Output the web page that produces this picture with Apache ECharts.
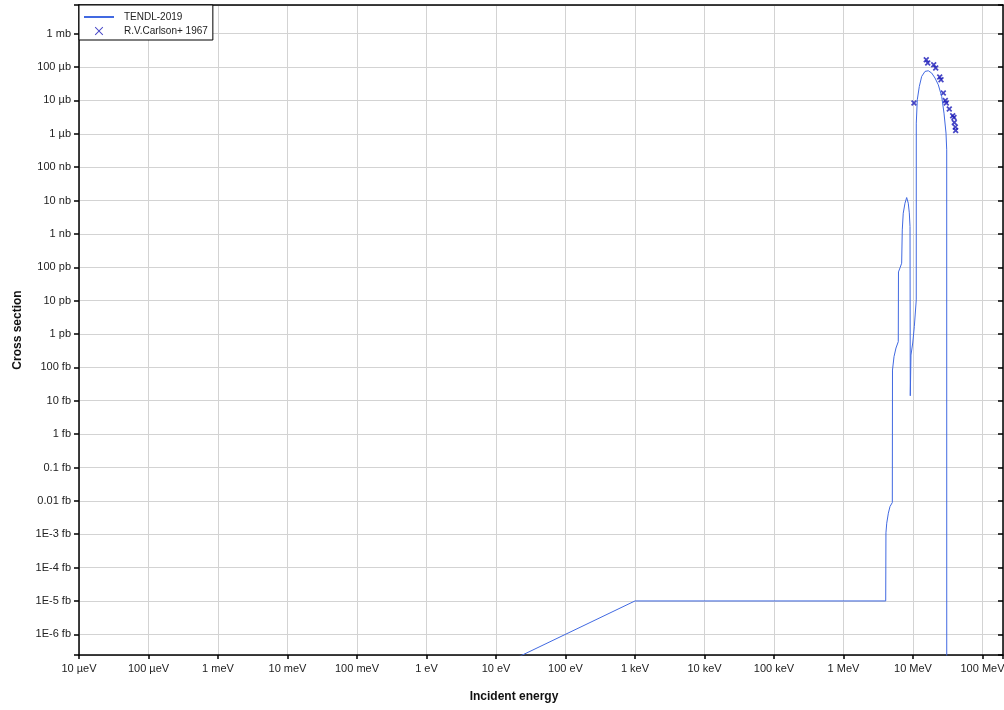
<!DOCTYPE html>
<html>
<head>
<meta charset="utf-8">
<title>Cross section</title>
<script src="https://cdn.jsdelivr.net/npm/echarts@6/dist/echarts.min.js"></script>
<style>
  html, body { margin: 0; padding: 0; background: #fff; overflow: hidden; }
  #main { width: 1004px; height: 710px; }
</style>
</head>
<body>
<div id="main"></div>
<script>
// TENDL-2019: incident energy (eV) / cross section (b)
var tendlEnergy = [
  1e-5, 1e3, 4.05e6, 4.08e6, 4.19e6, 4.42e6, 4.67e6, 5.04e6, 5.07e6, 5.33e6,
  5.69e6, 6.14e6, 6.18e6, 6.50e6, 6.87e6, 7.01e6, 7.24e6, 7.67e6, 8.11e6, 8.55e6,
  8.85e6, 9.06e6, 9.14e6, 9.35e6, 9.91e6, 1.045e7, 1.114e7, 1.115e7, 1.153e7, 1.233e7,
  1.334e7, 1.489e7, 1.660e7, 1.858e7, 2.075e7, 2.312e7, 2.588e7, 2.793e7, 2.985e7, 3.055e7,
  3.06e7
];
var tendlXs = [
  1e-28, 1e-20, 1e-20, 1.10e-18, 2.14e-18, 4.27e-18, 6.76e-18, 8.91e-18, 8.32e-14, 2.09e-13,
  3.80e-13, 5.89e-13, 7.24e-11, 9.55e-11, 1.32e-10, 1.32e-9, 4.17e-9, 8.32e-9, 1.23e-8, 8.32e-9,
  4.27e-9, 1.66e-9, 1.41e-14, 2.34e-13, 5.37e-13, 1.66e-12, 1.05e-11, 2.09e-6, 1.05e-5, 2.63e-5,
  5.25e-5, 7.41e-5, 7.76e-5, 6.61e-5, 4.68e-5, 2.95e-5, 1.32e-5, 4.17e-6, 1.05e-6, 3.31e-7,
  1e-30
];

// R.V.Carlson+ 1967
var carlsonEnergy = [
  1.033e7, 1.552e7, 1.629e7, 1.987e7, 2.123e7, 2.423e7, 2.529e7, 2.729e7,
  2.917e7, 3.013e7, 3.327e7, 3.724e7, 3.89e7, 3.93e7, 4.06e7, 4.11e7
];
var carlsonXs = [
  8.36e-6, 1.66e-4, 1.32e-4, 1.17e-4, 9.37e-5, 5.04e-5, 4.18e-5, 1.67e-5,
  1.0e-5, 8.36e-6, 5.52e-6, 3.48e-6, 3.09e-6, 2.19e-6, 1.59e-6, 1.26e-6
];

// tick labels, 1e-5 eV .. 1e8 eV
var xTickLabels = ['10 µeV', '100 µeV', '1 meV', '10 meV', '100 meV', '1 eV', '10 eV',
  '100 eV', '1 keV', '10 keV', '100 keV', '1 MeV', '10 MeV', '100 MeV'];
// tick labels, 1e-3 b down to 1e-21 b
var yTickLabels = ['1 mb', '100 µb', '10 µb', '1 µb', '100 nb', '10 nb', '1 nb', '100 pb',
  '10 pb', '1 pb', '100 fb', '10 fb', '1 fb', '0.1 fb', '0.01 fb', '1E-3 fb', '1E-4 fb',
  '1E-5 fb', '1E-6 fb'];

function toLog(xs, ys) {
  return xs.map(function (x, i) { return [Math.log10(x), Math.log10(ys[i])]; });
}
function isInt(v) { return Math.abs(v - Math.round(v)) < 1e-6; }

var font = 'Liberation Sans, Arial, sans-serif';
var thickCross = 'path://M0,2L2,0L5,3L8,0L10,2L7,5L10,8L8,10L5,7L2,10L0,8L3,5Z';
var thinCross = 'path://M-1,-1M11,11M0,0.8L0.8,0L5,4.2L9.2,0L10,0.8L5.8,5L10,9.2L9.2,10L5,5.8L0.8,10L0,9.2L4.2,5Z';
var lineIcon = 'path://M0,0L30,0L30,2L0,2Z';

var xMin = -5, xMax = 8.295, yMin = -21.62, yMax = -2.14;

var myChart = echarts.init(document.getElementById('main'));
myChart.setOption({
  animation: false,
  grid: { left: 79, right: 1, top: 5, bottom: 55, containLabel: false, outerBoundsMode: 'none' },
  legend: {
    left: 79, top: 5, orient: 'vertical',
    padding: [7, 5, 4, 5], itemGap: 4, itemWidth: 30, itemHeight: 10,
    backgroundColor: '#fff', borderColor: '#000', borderWidth: 1, borderRadius: 0,
    symbolKeepAspect: true,
    textStyle: { fontFamily: font, fontSize: 10, color: '#222', padding: [0, 0, 0, 5] },
    data: [
      { name: 'TENDL-2019', icon: lineIcon },
      { name: 'R.V.Carlson+ 1967', icon: thinCross }
    ]
  },
  xAxis: [{
    type: 'value', min: xMin, max: xMax, splitNumber: 13,
    name: 'Incident energy', nameLocation: 'middle', nameGap: 36,
    nameTextStyle: { fontFamily: font, fontSize: 12, fontWeight: 'bold', color: '#111', padding: [0, 54, 0, 0] },
    axisLine: { onZero: false, lineStyle: { color: '#000', width: 1.5 } },
    axisTick: { length: 4, lineStyle: { color: '#000', width: 1.5 } },
    axisLabel: {
      margin: 8, fontFamily: font, fontSize: 11, color: '#222',
      formatter: function (v) {
        if (!isInt(v)) return '';
        return xTickLabels[Math.round(v) - xMin] || '';
      }
    },
    splitLine: { show: true, lineStyle: { color: '#d3d3d3', width: 1 } }
  }, {
    type: 'value', position: 'top', min: xMin, max: xMax, splitNumber: 13,
    axisLine: { onZero: false, lineStyle: { color: '#000', width: 1.5 } },
    axisTick: { show: false }, axisLabel: { show: false }, splitLine: { show: false }
  }],
  yAxis: [{
    type: 'value', min: yMin, max: yMax, splitNumber: 19,
    name: 'Cross section', nameLocation: 'middle', nameGap: 55,
    nameTextStyle: { fontFamily: font, fontSize: 12, fontWeight: 'bold', color: '#111' },
    axisLine: { show: true, onZero: false, lineStyle: { color: '#000', width: 1.5 } },
    axisTick: { show: true, length: 5, lineStyle: { color: '#000', width: 1.5 } },
    axisLabel: {
      margin: 8, fontFamily: font, fontSize: 11, color: '#222',
      formatter: function (v) {
        if (!isInt(v)) return '';
        return yTickLabels[-3 - Math.round(v)] || '';
      }
    },
    splitLine: { show: true, lineStyle: { color: '#d3d3d3', width: 1 } }
  }, {
    type: 'value', position: 'right', min: yMin, max: yMax, splitNumber: 19,
    axisLine: { show: true, onZero: false, lineStyle: { color: '#000', width: 1.5 } },
    axisTick: { show: true, inside: true, length: 5, lineStyle: { color: '#000', width: 1.5 } },
    axisLabel: { show: false }, splitLine: { show: false }
  }],
  series: [{
    name: 'TENDL-2019', type: 'line', xAxisIndex: 0, yAxisIndex: 0,
    data: toLog(tendlEnergy, tendlXs),
    symbol: 'none', showSymbol: false, clip: true,
    lineStyle: { color: '#4169e1', width: 1 },
    itemStyle: { color: '#4169e1' }
  }, {
    name: 'R.V.Carlson+ 1967', type: 'scatter', xAxisIndex: 0, yAxisIndex: 0,
    data: toLog(carlsonEnergy, carlsonXs),
    symbol: thickCross, symbolSize: 6, symbolKeepAspect: true,
    itemStyle: { color: '#1a1ab8' }
  }]
});
</script>
</body>
</html>
